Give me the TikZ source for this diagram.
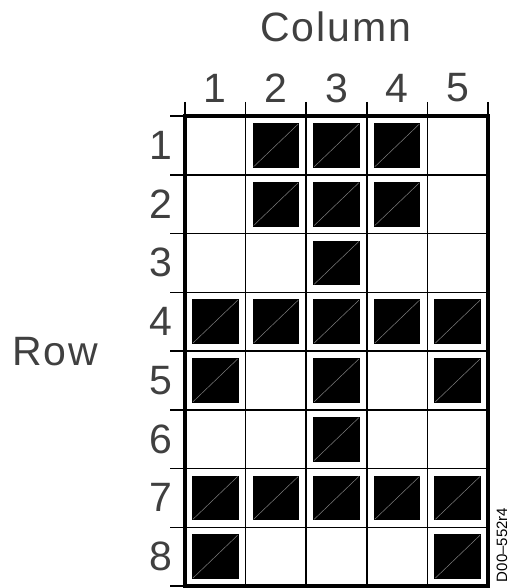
\documentclass[tikz,border=0pt]{standalone}
\usepackage{fontspec}
\setmainfont{Liberation Sans}
\newfontfamily\gridfont[LetterSpace=5]{Liberation Sans}

\begin{document}
\begin{tikzpicture}[x=1pt,y=-1pt,
  gridline/.style={line width=1.5pt},
  frameline/.style={line width=4.5pt},
  dotfill/.style={fill=black},
  dotdiag/.style={draw=gray, line width=0.5pt},
  biglabel/.style={font=\gridfont\fontsize{41}{48}\selectfont, inner sep=0pt, text=black!75}]
\useasboundingbox (0,0) rectangle (510,588);
\def\cw{60.6}
\def\rh{58.75}

% Grid lines with ticks
\foreach \c in {0,...,5}
  \draw[gridline] ({185+\c*\cw},102) -- ({185+\c*\cw},590);
\foreach \r in {0,...,8}
  \draw[gridline] (170,{116+\r*\rh}) -- (488,{116+\r*\rh});

% Outer frame
\draw[frameline] (185,116) rectangle (488,586);

% Filled cells
\foreach \c/\r in {2/1,3/1,4/1,2/2,3/2,4/2,3/3,1/4,2/4,3/4,4/4,5/4,
                   1/5,3/5,5/5,3/6,1/7,2/7,3/7,4/7,5/7,1/8,5/8} {
  \fill[dotfill] ({185+(\c-1)*\cw+7},{116+(\r-1)*\rh+7})
    rectangle ({185+\c*\cw-7},{116+\r*\rh-7});
  \draw[dotdiag] ({185+(\c-1)*\cw+8},{116+\r*\rh-8})
    -- ({185+\c*\cw-8},{116+(\r-1)*\rh+8});
}

% Labels
\node[biglabel] (coltitle) at (336,27) {Column};
\foreach \c in {1,...,5}
  \node[biglabel] (col\c) at ({185+(\c-0.5)*\cw},88) {\c};
\foreach \r in {1,...,8}
  \node[biglabel, anchor=east] (row\r) at (172,{116+(\r-0.5)*\rh}) {\r};
\node[biglabel, anchor=west] (rowtitle) at (12,352) {Row};
\node[font=\fontsize{15}{17}\selectfont, rotate=90, inner sep=0pt] (tag) at (502,545) {D00--552r4};
\end{tikzpicture}
\end{document}
